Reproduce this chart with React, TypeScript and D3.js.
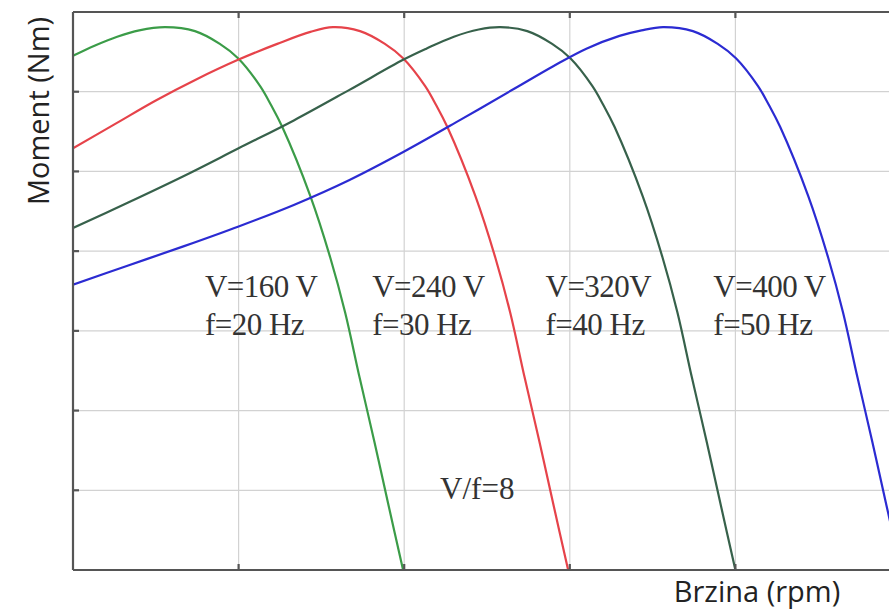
import { useEffect, useRef } from 'react';
import * as d3 from 'd3';

// speed (rpm) and torque (Nm) points
const speed20 = [0, 40, 80, 120, 167, 221, 266, 299, 339, 359, 379, 430, 466, 493, 519, 546, 572, 598];
const torque20 = [64.5, 65.8, 66.9, 67.7, 68.1, 67.6, 66.0, 64.2, 60.7, 58.3, 55.6, 46.9, 39.2, 32.3, 24.2, 16.1, 8.0, 0];

const speed30 = [0, 75, 150, 225, 299, 370, 430, 471, 520, 565, 598, 638, 658, 678, 729, 765, 792, 818, 845, 871, 897];
const torque30 = [52.9, 55.9, 58.9, 61.6, 64.0, 66.0, 67.5, 68.1, 67.6, 66.0, 64.2, 60.7, 58.3, 55.6, 46.9, 39.2, 32.3, 24.2, 16.1, 8.0, 0];

const speed40 = [0, 100, 200, 300, 400, 500, 598, 640, 690, 735, 774, 823, 868, 901, 941, 961, 981, 1032, 1068, 1095, 1121, 1148, 1174, 1200];
const torque40 = [42.9, 46.1, 49.4, 52.9, 56.4, 60.2, 64.0, 65.4, 66.9, 67.8, 68.1, 67.6, 66.0, 64.2, 60.7, 58.3, 55.6, 46.9, 39.2, 32.3, 24.2, 16.1, 8.0, 0];

const speed50 = [0, 100, 200, 300, 400, 500, 600, 700, 800, 870, 930, 990, 1030, 1069, 1123, 1168, 1201, 1241, 1261, 1281, 1332, 1368, 1395, 1421, 1448, 1474, 1500];
const torque50 = [35.8, 38.2, 40.6, 43.1, 45.8, 48.9, 52.5, 56.4, 60.4, 63.2, 65.4, 67.0, 67.7, 68.1, 67.6, 66.0, 64.2, 60.7, 58.3, 55.6, 46.9, 39.2, 32.3, 24.2, 16.1, 8.0, 0];

const seriesColors = ['#3b9c48', '#e6434a', '#37614b', '#2b2bd2'];
const voltageLabels = ['V=160 V', 'V=240 V', 'V=320V', 'V=400 V'];
const freqLabels = ['f=20 Hz', 'f=30 Hz', 'f=40 Hz', 'f=50 Hz'];
const labelSpeed = [239, 542, 856, 1160];
const ratioLabel = 'V/f=8';
const ratioSpeed = 665;
const xTicks = [0, 300, 600, 900, 1200, 1500];
const yTicks = [0, 10, 20, 30, 40, 50, 60, 70];

function TorqueChart() {
  const svgRef = useRef(null);

  useEffect(() => {
    const svg = d3.select(svgRef.current);
    svg.selectAll('*').remove();

    const x = d3.scaleLinear().domain([0, 1500]).range([73, 901]);
    const y = d3.scaleLinear().domain([0, 70]).range([570, 12]);

    svg
      .append('defs')
      .append('clipPath')
      .attr('id', 'plot-clip')
      .append('rect')
      .attr('x', x(0))
      .attr('y', y(70))
      .attr('width', x(1500) - x(0))
      .attr('height', y(0) - y(70));

    // grid
    svg
      .selectAll('line.vgrid')
      .data(xTicks.slice(1, -1))
      .enter()
      .append('line')
      .attr('x1', d => x(d))
      .attr('x2', d => x(d))
      .attr('y1', y(0))
      .attr('y2', y(70))
      .attr('stroke', '#d2d2d2')
      .attr('stroke-width', 1.2);

    svg
      .selectAll('line.hgrid')
      .data(yTicks.slice(1, -1))
      .enter()
      .append('line')
      .attr('x1', x(0))
      .attr('x2', x(1500))
      .attr('y1', d => y(d))
      .attr('y2', d => y(d))
      .attr('stroke', '#d2d2d2')
      .attr('stroke-width', 1.2);

    // curves
    const series = [
      [speed20, torque20],
      [speed30, torque30],
      [speed40, torque40],
      [speed50, torque50],
    ];
    const line = d3
      .line()
      .x(d => x(d[0]))
      .y(d => y(d[1]))
      .curve(d3.curveCatmullRom.alpha(0.5));

    svg
      .append('g')
      .attr('clip-path', 'url(#plot-clip)')
      .selectAll('path')
      .data(series)
      .enter()
      .append('path')
      .attr('d', s => line(s[0].map((v, i) => [v, s[1][i]])))
      .attr('fill', 'none')
      .attr('stroke', (_, i) => seriesColors[i])
      .attr('stroke-width', 2.2);

    // frame
    const frame = svg.append('g').attr('stroke', '#555').attr('stroke-width', 2.2).attr('fill', 'none');
    frame.append('line').attr('x1', x(0)).attr('x2', x(0)).attr('y1', y(0)).attr('y2', y(70));
    frame.append('line').attr('x1', x(0)).attr('x2', x(1500)).attr('y1', y(70)).attr('y2', y(70));
    frame.append('line').attr('x1', x(0)).attr('x2', x(1500)).attr('y1', y(0)).attr('y2', y(0));
    frame.append('line').attr('x1', x(1500)).attr('x2', x(1500)).attr('y1', y(0)).attr('y2', y(70));

    // small inward ticks
    yTicks.slice(1, -1).forEach(t => {
      frame.append('line').attr('x1', x(0)).attr('x2', x(0) + 6).attr('y1', y(t)).attr('y2', y(t));
    });
    xTicks.slice(1, -1).forEach(t => {
      frame.append('line').attr('x1', x(t)).attr('x2', x(t)).attr('y1', y(70)).attr('y2', y(70) + 6);
      frame.append('line').attr('x1', x(t)).attr('x2', x(t)).attr('y1', y(0)).attr('y2', y(0) - 6);
    });

    // annotations
    const notes = svg
      .append('g')
      .style('font-family', '"Liberation Serif", "Times New Roman", serif')
      .style('font-size', '31px')
      .attr('fill', '#333');

    notes
      .selectAll('text.volt')
      .data(voltageLabels)
      .enter()
      .append('text')
      .attr('x', (_, i) => x(labelSpeed[i]))
      .attr('y', 297)
      .attr('letter-spacing', -0.5)
      .text(d => d);

    notes
      .selectAll('text.freq')
      .data(freqLabels)
      .enter()
      .append('text')
      .attr('x', (_, i) => x(labelSpeed[i]))
      .attr('y', 335)
      .attr('letter-spacing', -0.5)
      .text(d => d);

    notes.append('text').attr('x', x(ratioSpeed)).attr('y', 499).text(ratioLabel);

    // axis titles
    svg
      .append('text')
      .attr('x', 757)
      .attr('y', 602)
      .attr('text-anchor', 'middle')
      .style('font-family', '"Open Sans", sans-serif')
      .style('font-size', '29px')
      .attr('fill', '#222')
      .text('Brzina (rpm)');

    svg
      .append('text')
      .attr('transform', 'translate(49, 111) rotate(-90)')
      .attr('text-anchor', 'middle')
      .style('font-family', '"Open Sans", sans-serif')
      .style('font-size', '29px')
      .attr('fill', '#222')
      .text('Moment (Nm)');
  }, []);

  return <svg ref={svgRef} width={889} height={610} style={{ display: 'block' }} />;
}

export default function App() {
  return (
    <div style={{ position: 'absolute', left: 0, top: 0, width: 889, height: 610, background: '#fff', overflow: 'hidden' }}>
      <TorqueChart />
    </div>
  );
}
